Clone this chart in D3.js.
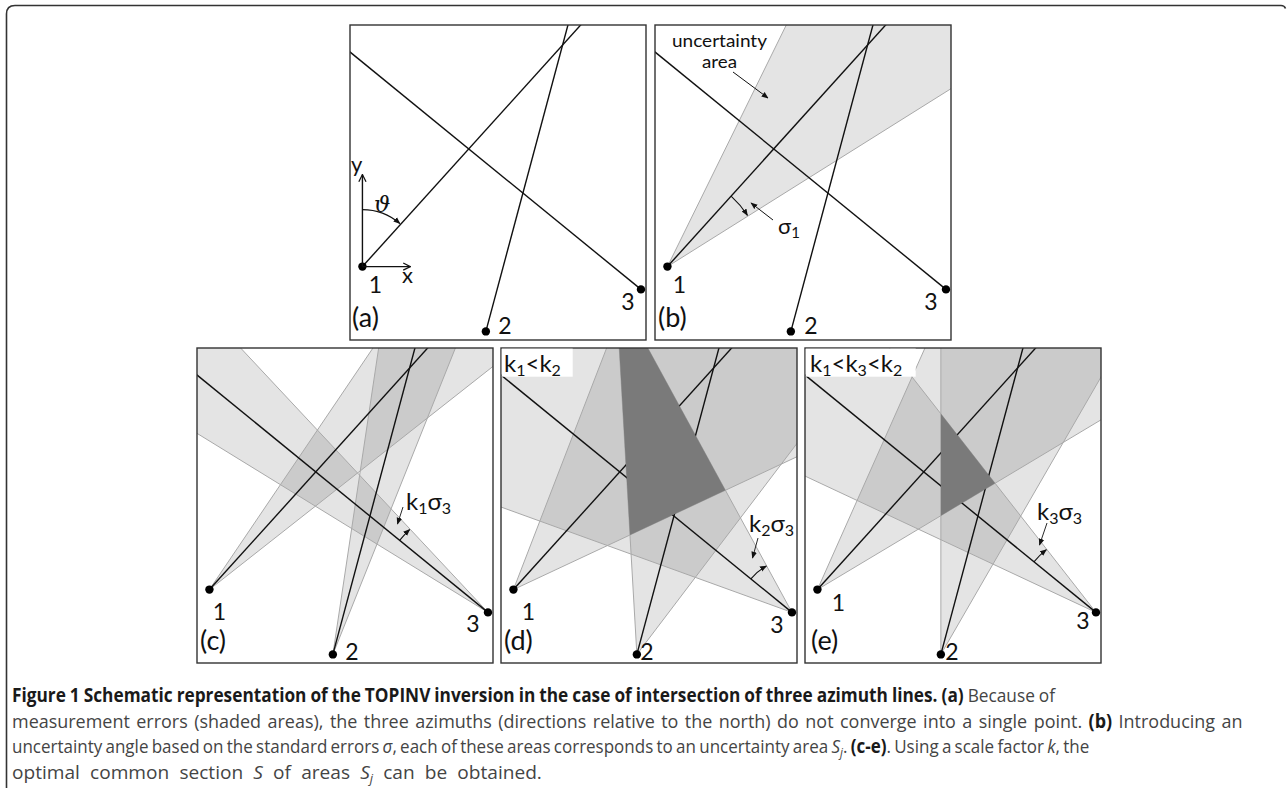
<!DOCTYPE html>
<html><head><meta charset="utf-8">
<script src="https://cdn.jsdelivr.net/npm/d3@7"></script>
<style>body{margin:0;background:#fff}svg{display:block}</style>
</head><body><svg id="fig" width="1287" height="788"></svg>
<script>
// ---------- data (schematic units: x 0..100, y 0..106.4, north = up) ----------
const stationNames = ["1", "2", "3"];
const stationX = [4.2, 45.9, 98.3];
const stationY = [24.8, 2.9, 17.1];
const azimuths = [42.1, 15.0, 309.2];           // degrees from north
const panelNames = ["(a)", "(b)", "(c)", "(d)", "(e)"];
// uncertainty wedge edges [from, to] azimuths per station, per panel
const wedgesA = [null, null, null];
const wedgesB = [[26.2, 57.9], null, null];
const wedgesC = [[34.1, 51.8], [8.5, 21.8], [301.6, 316.9]];
const wedgesD = [[21.1, 64.9], [-3.3, 37.2], [289.9, 331.4]];
const wedgesE = [[24.0, 59.1], [0.0, 30.0], [295.1, 322.0]];
const commonSection = [false, false, false, true, true];
const kSub = [null, null, "1", "2", "3"];       // k index shown at station 3
const orderText = [null, null, null, [["k","1"],["<",""],["k","2"]], [["k","1"],["<",""],["k","3"],["<",""],["k","2"]]];

// ---------- layout ----------
const W = 296, H = 315;
const panels = [
  {x: 350, y: 25}, {x: 655, y: 25}, {x: 197, y: 348}, {x: 501, y: 348}, {x: 805, y: 348}
];
const allWedges = [wedgesA, wedgesB, wedgesC, wedgesD, wedgesE];
const numOff = [
  [[13, 26], [19, 3], [-13, 21]],
  [[12, 26], [20, 3], [-15, 21]],
  [[10, 30], [19, 6], [-15, 20]],
  [[15, 30], [10, 6], [-15, 21]],
  [[21, 21], [11, 6], [-13, 17]]
];
const kArc = [null, null, {r: 114, tx: 406, ty: 510, p: [[403, 507], [397.5, 524]]},
  {r: 53, tx: 749, ty: 532, p: [[758, 538], [752.5, 558]]},
  {r: 80, tx: 1037, ty: 520, p: [[1047, 523], [1039.5, 545]]}];

const svg = d3.select("#fig");
const FONT = "Lato, 'Open Sans', sans-serif";
const defs = svg.append("defs");
defs.append("marker").attr("id", "ah").attr("viewBox", "0 0 10 10")
  .attr("refX", 9).attr("refY", 5).attr("markerWidth", 7).attr("markerHeight", 7)
  .attr("markerUnits", "userSpaceOnUse").attr("orient", "auto")
  .append("path").attr("d", "M0,1L10,5L0,9Z").attr("fill", "#111");
defs.append("marker").attr("id", "av").attr("viewBox", "0 0 10 10")
  .attr("refX", 9).attr("refY", 5).attr("markerWidth", 9).attr("markerHeight", 9)
  .attr("markerUnits", "userSpaceOnUse").attr("orient", "auto")
  .append("path").attr("d", "M1,1L9,5L1,9").attr("fill", "none").attr("stroke", "#111").attr("stroke-width", 1.4);

// outer frame
svg.append("path").attr("d", "M6.5,788 L6.5,14 Q6.5,5.5 15,5.5 L1281,5.5 Q1284.5,5.5 1285.5,8.5")
  .attr("fill", "none").attr("stroke", "#333").attr("stroke-width", 1.6);

const rad = d => d * Math.PI / 180;
const dir = a => [Math.sin(rad(a)), Math.cos(rad(a))];
function clipPoly(poly, f) {
  const out = [];
  for (let i = 0; i < poly.length; i++) {
    const A = poly[i], B = poly[(i + 1) % poly.length];
    const fa = f(A), fb = f(B);
    if (fa >= 0) out.push(A);
    if ((fa >= 0) !== (fb >= 0)) {
      const t = fa / (fa - fb);
      out.push([A[0] + t * (B[0] - A[0]), A[1] + t * (B[1] - A[1])]);
    }
  }
  return out;
}
function halfPlanes(i, w) {
  const P = [stationX[i], stationY[i]];
  const d1 = dir(w[0]), d2 = dir(w[1]);
  return [
    Q => -(d1[0] * (Q[1] - P[1]) - d1[1] * (Q[0] - P[0])),
    Q => (d2[0] * (Q[1] - P[1]) - d2[1] * (Q[0] - P[0]))
  ];
}
const rectU = [[0, 0], [100, 0], [100, 106.4], [0, 106.4]];

panels.forEach((pn, pi) => {
  const x = d3.scaleLinear().domain([0, 100]).range([pn.x, pn.x + W]);
  const y = d3.scaleLinear().domain([0, 106.4]).range([pn.y + H, pn.y]);
  const toPath = poly => "M" + poly.map(p => x(p[0]) + "," + y(p[1])).join("L") + "Z";
  const cid = "clip" + pi;
  defs.append("clipPath").attr("id", cid).append("rect")
    .attr("x", pn.x).attr("y", pn.y).attr("width", W).attr("height", H);
  const g = svg.append("g");
  const gc = g.append("g").attr("clip-path", `url(#${cid})`);
  const wedges = allWedges[pi];

  wedges.forEach((w, i) => {
    if (!w) return;
    let poly = rectU;
    halfPlanes(i, w).forEach(f => { poly = clipPoly(poly, f); });
    if (poly.length > 2) gc.append("path").attr("d", toPath(poly)).attr("fill", "#000").attr("fill-opacity", 0.105);
  });
  wedges.forEach((w, i) => {
    if (!w) return;
    w.forEach(a => {
      const d = dir(a);
      gc.append("line").attr("x1", x(stationX[i])).attr("y1", y(stationY[i]))
        .attr("x2", x(stationX[i] + 200 * d[0])).attr("y2", y(stationY[i] + 200 * d[1]))
        .attr("stroke", "#a9a9a9").attr("stroke-width", 1);
    });
  });
  azimuths.forEach((a, i) => {
    const d = dir(a);
    gc.append("line").attr("x1", x(stationX[i])).attr("y1", y(stationY[i]))
      .attr("x2", x(stationX[i] + 200 * d[0])).attr("y2", y(stationY[i] + 200 * d[1]))
      .attr("stroke", "#111").attr("stroke-width", 1.4);
  });
  if (commonSection[pi]) {
    let poly = rectU;
    wedges.forEach((w, i) => { if (w) halfPlanes(i, w).forEach(f => { poly = clipPoly(poly, f); }); });
    if (poly.length > 2) gc.append("path").attr("d", toPath(poly)).attr("fill", "#7a7a7a");
  }
  g.append("rect").attr("x", pn.x).attr("y", pn.y).attr("width", W).attr("height", H)
    .attr("fill", "none").attr("stroke", "#333").attr("stroke-width", 1.4);
  stationNames.forEach((s, i) => {
    const sx = x(stationX[i]), sy = y(stationY[i]);
    g.append("circle").attr("cx", sx).attr("cy", sy).attr("r", 4.2).attr("fill", "#000");
    g.append("text").attr("x", sx + numOff[pi][i][0]).attr("y", sy + numOff[pi][i][1])
      .attr("text-anchor", "middle").attr("font-family", FONT).attr("font-size", 23).attr("fill", "#111").text(s);
  });
  g.append("text").attr("x", pn.x + (pi === 4 ? 6 : pi === 0 ? 2 : 3)).attr("y", pn.y + 302)
    .attr("font-family", FONT).attr("font-size", 27).attr("fill", "#111").text(panelNames[pi]);

  const arcPath = (cx, cy, r, a0, a1) => {
    const p = d3.path();
    p.moveTo(cx + r * Math.sin(rad(a0)), cy - r * Math.cos(rad(a0)));
    p.arc(cx, cy, r, rad(a0 - 90), rad(a1 - 90), a1 < a0);
    return p.toString();
  };

  const s1x = x(stationX[0]), s1y = y(stationY[0]);
  if (pi === 0) {
    g.append("line").attr("x1", s1x).attr("y1", s1y).attr("x2", s1x).attr("y2", s1y - 92)
      .attr("stroke", "#111").attr("stroke-width", 1.4).attr("marker-end", "url(#av)");
    g.append("line").attr("x1", s1x).attr("y1", s1y).attr("x2", s1x + 48).attr("y2", s1y)
      .attr("stroke", "#111").attr("stroke-width", 1.4).attr("marker-end", "url(#av)");
    g.append("text").attr("x", 351).attr("y", 172).attr("font-family", FONT).attr("font-size", 22).attr("fill", "#111").text("y");
    g.append("text").attr("x", 402).attr("y", 283).attr("font-family", FONT).attr("font-size", 22).attr("fill", "#111").text("x");
    g.append("text").attr("x", 374).attr("y", 212).attr("font-family", "'DejaVu Serif', serif").attr("font-style", "italic")
      .attr("font-size", 23).attr("fill", "#111").text("ϑ");
    g.append("path").attr("d", arcPath(s1x, s1y, 57, 0, azimuths[0] - 1)).attr("fill", "none")
      .attr("stroke", "#111").attr("stroke-width", 1.1).attr("marker-end", "url(#ah)");
  }
  if (pi === 1) {
    g.append("text").attr("x", 672).attr("y", 47).attr("font-family", FONT).attr("font-size", 17)
      .attr("textLength", 95).attr("lengthAdjust", "spacingAndGlyphs").attr("fill", "#111").text("uncertainty");
    g.append("text").attr("x", 702).attr("y", 68).attr("font-family", FONT).attr("font-size", 17)
      .attr("textLength", 35).attr("lengthAdjust", "spacingAndGlyphs").attr("fill", "#111").text("area");
    g.append("line").attr("x1", 733).attr("y1", 72).attr("x2", 768).attr("y2", 98)
      .attr("stroke", "#111").attr("stroke-width", 1).attr("marker-end", "url(#ah)");
    const t = g.append("text").attr("x", 778).attr("y", 234).attr("font-family", FONT).attr("font-size", 22).attr("fill", "#111");
    t.append("tspan").text("σ");
    t.append("tspan").attr("font-size", 15).attr("dy", 4).text("1");
    g.append("line").attr("x1", 773).attr("y1", 220).attr("x2", 751).attr("y2", 203)
      .attr("stroke", "#111").attr("stroke-width", 1).attr("marker-end", "url(#ah)");
    g.append("path").attr("d", arcPath(s1x, s1y, 95, azimuths[0], wedgesB[0][1] - 0.5)).attr("fill", "none")
      .attr("stroke", "#111").attr("stroke-width", 1.1).attr("marker-end", "url(#ah)");
  }
  if (kArc[pi]) {
    const ka = kArc[pi];
    const s3x = x(stationX[2]), s3y = y(stationY[2]);
    g.append("path").attr("d", arcPath(s3x, s3y, ka.r, azimuths[2], wedges[2][1] - 0.3)).attr("fill", "none")
      .attr("stroke", "#111").attr("stroke-width", 1.1).attr("marker-end", "url(#ah)");
    g.append("line").attr("x1", ka.p[0][0]).attr("y1", ka.p[0][1]).attr("x2", ka.p[1][0]).attr("y2", ka.p[1][1])
      .attr("stroke", "#111").attr("stroke-width", 0.9).attr("marker-end", "url(#ah)");
    const t = g.append("text").attr("x", ka.tx).attr("y", ka.ty).attr("font-family", FONT).attr("font-size", 24).attr("fill", "#111");
    t.append("tspan").text("k");
    t.append("tspan").attr("font-size", 16).attr("dy", 4).text(kSub[pi]);
    t.append("tspan").attr("dy", -4).text("σ");
    t.append("tspan").attr("font-size", 16).attr("dy", 4).text("3");
  }
  if (orderText[pi]) {
    const bw = pi === 3 ? 71 : 110;
    g.append("rect").attr("x", pn.x + 0.7).attr("y", pn.y + 0.7).attr("width", bw).attr("height", 28).attr("fill", "#fff");
    const t = g.append("text").attr("x", pn.x + (pi === 3 ? 3 : 5)).attr("y", pn.y + 24).attr("font-family", FONT).attr("font-size", 24).attr("fill", "#111");
    let down = false;
    orderText[pi].forEach(([m, s]) => {
      const a = t.append("tspan").text(m);
      if (down) { a.attr("dy", -4); down = false; }
      if (s) { t.append("tspan").attr("font-size", 16).attr("dy", 4).text(s); down = true; }
    });
  }
});

// ---------- caption ----------
const capLines = [
  {y: 702, w: 1044, parts: [["Figure 1 Schematic representation of the TOPINV inversion in the case of intersection of three azimuth lines.", "b"], [" ", ""], ["(a)", "b"], [" Because of", ""]]},
  {y: 727.5, w: 1231, parts: [["measurement errors (shaded areas), the three azimuths (directions relative to the north) do not converge into a single point. ", ""], ["(b)", "b"], [" Introducing an", ""]]},
  {y: 753, w: 1078, parts: [["uncertainty angle based on the standard errors ", ""], ["σ", "i"], [", each of these areas corresponds to an uncertainty area ", ""], ["S", "i"], ["j", "is"], [". ", ""], ["(c-e)", "b"], [". Using a scale factor ", ""], ["k", "i"], [", the", ""]]},
  {y: 778.5, w: 530, parts: [["optimal common section ", ""], ["S", "i"], [" of areas ", ""], ["S", "i"], ["j", "is"], [" can be obtained.", ""]]}
];
const capTexts = capLines.map(L => {
  const t = svg.append("text").attr("x", 0).attr("y", 0).attr("font-family", "'Open Sans', sans-serif")
    .attr("font-size", 19).attr("fill", "#444");
  let sub = false;
  L.parts.forEach(([s, st]) => {
    const ts = t.append("tspan").text(s);
    if (st.includes("b")) ts.attr("font-weight", "bold").attr("fill", "#1a1a1a");
    if (st.includes("i")) ts.attr("font-style", "italic");
    if (st.includes("s")) { ts.attr("font-size", 13).attr("dy", 4); sub = true; }
    else if (sub) { ts.attr("dy", -4); sub = false; }
  });
  return t;
});
const nats = capTexts.map(t => t.node().getComputedTextLength());
const sc = (capLines[0].w + capLines[1].w + capLines[2].w) / (nats[0] + nats[1] + nats[2]);
capTexts.forEach((t, i) => {
  const L = capLines[i];
  const si = sc * Math.sqrt(L.w / (nats[i] * sc));
  const spaces = L.parts.map(p => p[0]).join("").split(" ").length - 1;
  const ws = (L.w / si - nats[i]) / spaces;
  t.attr("word-spacing", ws);
  t.attr("transform", `translate(12,${L.y}) scale(${si},1)`);
});
</script></body></html>
